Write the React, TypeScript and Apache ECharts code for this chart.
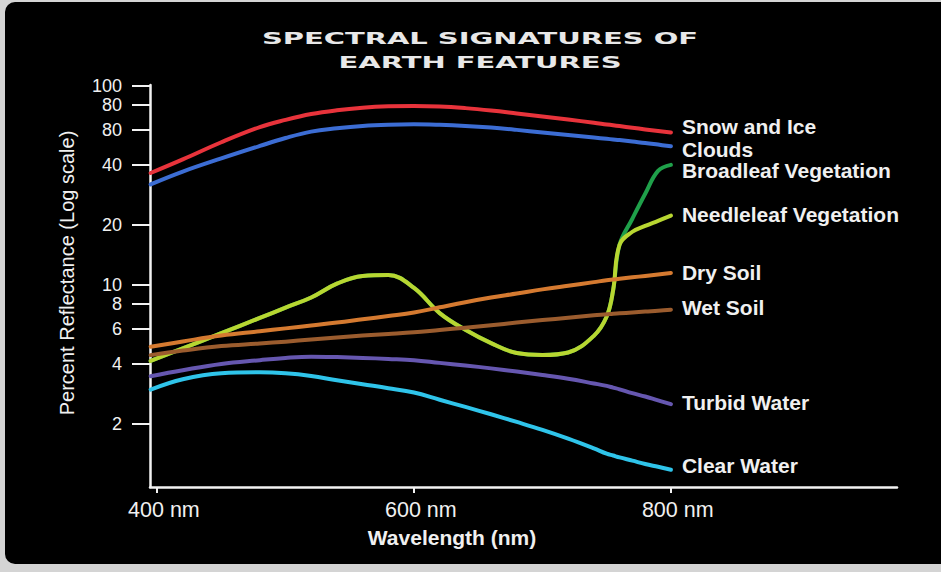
import React, { useEffect, useRef } from "react";
import * as echarts from "echarts";

// Wavelength samples (nm)
const wavelengths = [395, 420, 450, 480, 500, 520, 540, 560, 580, 600, 620, 640, 660, 680, 700, 720, 740, 750, 755, 760, 770, 780, 790, 800];

// Percent reflectance
const snowIce = [36.5, 42.7, 52.1, 62.1, 67.5, 72.2, 75.4, 77.6, 78.9, 79.3, 78.8, 77.3, 75.2, 72.7, 70.2, 67.7, 65.3, 64.0, 63.4, 62.8, 61.6, 60.4, 59.3, 58.3];
const clouds = [32.0, 37.1, 43.2, 49.9, 54.7, 58.9, 61.2, 62.9, 63.8, 64.1, 63.7, 62.9, 61.7, 60.1, 58.3, 56.6, 55.0, 54.2, 53.8, 53.4, 52.5, 51.7, 50.7, 49.7];
const broadleaf = [4.15, 4.8, 5.72, 6.83, 7.69, 8.65, 10.15, 11.08, 11.21, 9.66, 7.22, 5.95, 5.1, 4.55, 4.45, 4.58, 5.55, 6.94, 9.39, 15.9, 21.5, 28.7, 37.4, 40.1];
const needleleaf = [4.15, 4.8, 5.72, 6.83, 7.69, 8.65, 10.15, 11.08, 11.21, 9.66, 7.22, 5.95, 5.1, 4.55, 4.45, 4.58, 5.55, 6.94, 9.39, 15.9, 18.5, 19.8, 21.0, 22.3];
const drySoil = [4.89, 5.2, 5.57, 5.85, 6.05, 6.26, 6.47, 6.72, 6.98, 7.27, 7.72, 8.19, 8.64, 9.05, 9.5, 9.91, 10.33, 10.55, 10.64, 10.73, 10.92, 11.1, 11.29, 11.49];
const wetSoil = [4.44, 4.68, 4.93, 5.08, 5.19, 5.32, 5.45, 5.57, 5.67, 5.78, 5.94, 6.1, 6.27, 6.47, 6.66, 6.84, 7.04, 7.12, 7.17, 7.2, 7.27, 7.35, 7.42, 7.51];
const turbidWater = [3.48, 3.73, 4.01, 4.19, 4.3, 4.36, 4.34, 4.3, 4.25, 4.19, 4.06, 3.94, 3.81, 3.67, 3.53, 3.38, 3.2, 3.11, 3.05, 2.99, 2.86, 2.75, 2.63, 2.52];
const clearWater = [2.98, 3.36, 3.6, 3.64, 3.6, 3.49, 3.32, 3.17, 3.03, 2.88, 2.65, 2.44, 2.24, 2.05, 1.87, 1.69, 1.51, 1.42, 1.39, 1.36, 1.31, 1.26, 1.22, 1.18];

// Axis ticks
const yTickValues = [100, 80, 60, 40, 20, 10, 8, 6, 4, 2];
const yTickLabels = ["100", "80", "80", "40", "20", "10", "8", "6", "4", "2"];
const xTickValues = [400, 600, 800];
const xTickLabels = ["400 nm", "600 nm", "800 nm"];

const titleLines = ["SPECTRAL SIGNATURES OF", "EARTH FEATURES"];

const FONT = "'Liberation Sans', Arial, Helvetica, sans-serif";
const TEXT = "#f0f0f0";

const seriesDefs = [
  { name: "Snow and Ice", data: snowIce, color: "#e8333b", dy: -6 },
  { name: "Clouds", data: clouds, color: "#3c6dd4", dy: 3 },
  { name: "Broadleaf Vegetation", data: broadleaf, color: "#1fa04a", dy: 6 },
  { name: "Needleleaf Vegetation", data: needleleaf, color: "#b8d631", dy: -1 },
  { name: "Dry Soil", data: drySoil, color: "#d57a30", dy: 0 },
  { name: "Wet Soil", data: wetSoil, color: "#9b5c2e", dy: -2 },
  { name: "Turbid Water", data: turbidWater, color: "#6657b0", dy: -2 },
  { name: "Clear Water", data: clearWater, color: "#2fc4ea", dy: -4 },
];

function findLabel(values: number[], labels: string[], v: number) {
  for (let i = 0; i < values.length; i++) {
    if (Math.abs(values[i] - v) < values[i] * 0.01) return labels[i];
  }
  return "";
}

export default function App() {
  const ref = useRef<HTMLDivElement>(null);
  useEffect(() => {
    if (!ref.current) return;
    const chart = echarts.init(ref.current, undefined, { renderer: "svg" });
    const option: any = {
      animation: false,
      backgroundColor: "#d4d4d4",
      graphic: [
        {
          type: "rect",
          z: -10,
          shape: { x: 5, y: 2, width: 960, height: 562, r: 10 },
          style: { fill: "#000" },
          silent: true,
        },
        ...titleLines.map((t, i) => ({
          type: "text",
          x: 480,
          y: 39 + i * 24,
          scaleX: 1.81,
          z: 10,
          style: {
            text: t,
            fill: "#e8e8e8",
            font: "bold 16px 'DejaVu Sans', sans-serif",
            textAlign: "center",
            textVerticalAlign: "middle",
          },
        })),
      ],
      grid: { left: 150, right: 44, top: 85, bottom: 85, containLabel: false },
      xAxis: {
        type: "value",
        min: 394.5,
        max: 976,
        name: "Wavelength (nm)",
        nameLocation: "middle",
        nameGap: 40,
        nameTextStyle: {
          color: TEXT,
          fontFamily: FONT,
          fontSize: 21,
          fontWeight: "bold",
          padding: [0, 143, 0, 0],
        },
        axisLine: { show: true, lineStyle: { color: "#f2f2f2", width: 2.5 } },
        axisTick: {
          show: true,
          customValues: xTickValues,
          length: 6,
          lineStyle: { color: "#f2f2f2", width: 2 },
        },
        axisLabel: {
          show: true,
          customValues: xTickValues,
          margin: 12,
          color: TEXT,
          fontFamily: FONT,
          fontSize: 21.5,
          formatter: (v: number) => `{a|${findLabel(xTickValues, xTickLabels, v)}}`,
          rich: {
            a: { width: 58, align: "left", color: TEXT, fontFamily: FONT, fontSize: 21.5 },
          },
        },
        splitLine: { show: false },
      },
      yAxis: {
        type: "log",
        logBase: 10,
        min: 0.966,
        max: 101,
        name: "Percent Reflectance (Log scale)",
        nameLocation: "middle",
        nameGap: 73,
        nameTextStyle: {
          color: TEXT,
          fontFamily: FONT,
          fontSize: 20,
          padding: [0, 0, 0, 26],
        },
        axisLine: { show: true, lineStyle: { color: "#f2f2f2", width: 2.5 } },
        axisTick: {
          show: true,
          customValues: yTickValues,
          length: 18,
          lineStyle: { color: "#f2f2f2", width: 2 },
        },
        axisLabel: {
          show: true,
          customValues: yTickValues,
          margin: 28,
          color: TEXT,
          fontFamily: FONT,
          fontSize: 18,
          lineHeight: 17,
          formatter: (v: number) => findLabel(yTickValues, yTickLabels, v),
        },
        splitLine: { show: false },
      },
      series: seriesDefs.map((s, idx) => ({
        name: s.name,
        type: "line",
        data: wavelengths.map((w, i) => [w, s.data[i]]),
        smooth: 0.4,
        showSymbol: false,
        symbol: "none",
        z: 2 + idx,
        lineStyle: { color: s.color, width: 4, cap: "round", join: "round" },
        itemStyle: { color: s.color },
        endLabel: {
          show: true,
          formatter: s.name,
          color: TEXT,
          fontFamily: FONT,
          fontSize: 21,
          lineHeight: 19,
          fontWeight: "bold",
          distance: 11,
          offset: [0, s.dy],
        },
        emphasis: { disabled: true },
      })),
    };
    chart.setOption(option);
    return () => chart.dispose();
  }, []);
  return (
    <div style={{ position: "fixed", left: 0, top: 0, width: 941, height: 572 }}>
      <div ref={ref} style={{ width: 941, height: 572 }} />
    </div>
  );
}
